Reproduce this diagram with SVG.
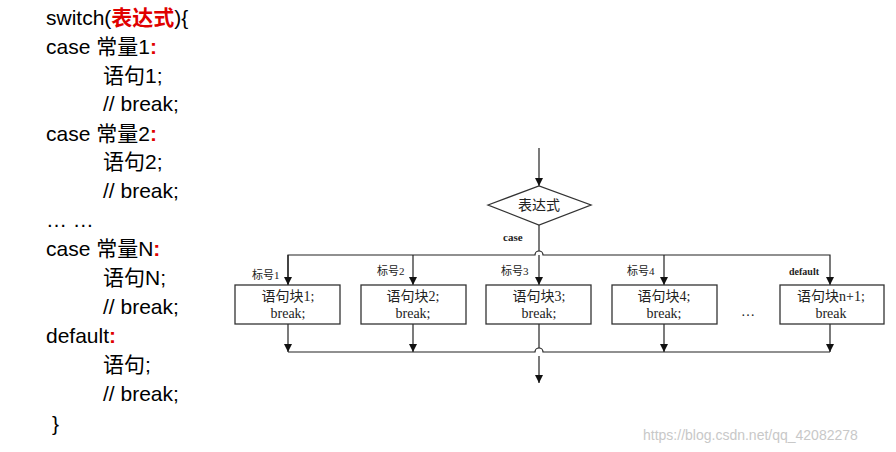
<svg xmlns="http://www.w3.org/2000/svg" width="896" height="452" viewBox="0 0 896 452">
<style>
.code{font-family:"Liberation Sans","Noto Sans CJK SC",sans-serif;font-size:21px;fill:#000}
.red{fill:#e00000;font-weight:bold}
.box{fill:#fff;stroke:#333;stroke-width:1.3}
.ln{fill:none;stroke:#222;stroke-width:1.2}
.t{font-family:"Liberation Serif","Noto Sans CJK SC",serif;font-size:14px;fill:#222;text-anchor:middle}
.s{font-family:"Liberation Serif","Noto Sans CJK SC",serif;font-size:11px;fill:#222}
</style>
<defs><marker id="a" viewBox="0 0 10 10" refX="10" refY="5" markerWidth="8" markerHeight="10" markerUnits="userSpaceOnUse" orient="auto"><path d="M0,0L10,5L0,10z" fill="#111"/></marker></defs>
<rect width="896" height="452" fill="#fff"/>
<g id="code">
<text class="code" x="46" y="25">switch(<tspan class="red">表达式</tspan>){</text>
<text class="code" x="46" y="54">case 常量1<tspan class="red">:</tspan></text>
<text class="code" x="103" y="83">语句1;</text>
<text class="code" x="103" y="111">// break;</text>
<text class="code" x="46" y="141">case 常量2<tspan class="red">:</tspan></text>
<text class="code" x="103" y="169">语句2;</text>
<text class="code" x="103" y="198">// break;</text>
<text class="code" x="46" y="227">… …</text>
<text class="code" x="46" y="256">case 常量N<tspan class="red">:</tspan></text>
<text class="code" x="103" y="285">语句N;</text>
<text class="code" x="103" y="314">// break;</text>
<text class="code" x="46" y="343">default<tspan class="red">:</tspan></text>
<text class="code" x="103" y="372">语句;</text>
<text class="code" x="103" y="401">// break;</text>
<text class="code" x="52" y="431">}</text>
</g>
<g id="connectors">
<path class="ln" d="M539,148V186" marker-end="url(#a)"/>
<path class="ln" d="M539,225V251"/>
<path class="ln" d="M288,285V255H535A4,4 0 0 1 543,255H830V285" marker-end="url(#a)"/>
<path class="ln" d="M539,255V285" marker-end="url(#a)"/>
<path class="ln" d="M413,255V285" marker-end="url(#a)"/>
<path class="ln" d="M664,255V285" marker-end="url(#a)"/>
<path class="ln" d="M288,255V285" marker-end="url(#a)"/>
<path class="ln" d="M288,324V352" marker-end="url(#a)"/>
<path class="ln" d="M413,324V352" marker-end="url(#a)"/>
<path class="ln" d="M664,324V352" marker-end="url(#a)"/>
<path class="ln" d="M830,324V352" marker-end="url(#a)"/>
<path class="ln" d="M539,324V348"/>
<path class="ln" d="M288,352H535A4,4 0 0 1 543,352H830"/>
<path class="ln" d="M539,356V383" marker-end="url(#a)"/>
<text class="s" x="503" y="241" style="font-weight:bold">case</text>
<text class="s" x="252" y="279">标号1</text>
<text class="s" x="377" y="275">标号2</text>
<text class="s" x="501" y="275">标号3</text>
<text class="s" x="627" y="275">标号4</text>
<text class="s" x="789" y="275" style="font-size:10px;font-weight:bold">default</text>
</g>
<g id="diamond"><path class="box" d="M488,205L539,186L591,205L539,225Z"/><text class="t" x="539" y="210">表达式</text></g>
<g id="b1"><rect class="box" x="235" y="285" width="105" height="39"/><text class="t" x="288" y="301">语句块1;</text><text class="t" x="288" y="318">break;</text></g>
<g id="b2"><rect class="box" x="361" y="285" width="105" height="39"/><text class="t" x="413" y="301">语句块2;</text><text class="t" x="413" y="318">break;</text></g>
<g id="b3"><rect class="box" x="486" y="285" width="105" height="39"/><text class="t" x="539" y="301">语句块3;</text><text class="t" x="539" y="318">break;</text></g>
<g id="b4"><rect class="box" x="612" y="285" width="105" height="39"/><text class="t" x="664" y="301">语句块4;</text><text class="t" x="664" y="318">break;</text></g>
<text class="t" x="748" y="316">…</text>
<g id="b5"><rect class="box" x="780" y="285" width="104" height="39"/><text class="t" x="831" y="301">语句块n+1;</text><text class="t" x="831" y="318">break</text></g>
<text x="643" y="440" style="font-family:'Liberation Sans',sans-serif;font-size:14px;fill:#c8c8c8">https://blog.csdn.net/qq_42082278</text>
</svg>
